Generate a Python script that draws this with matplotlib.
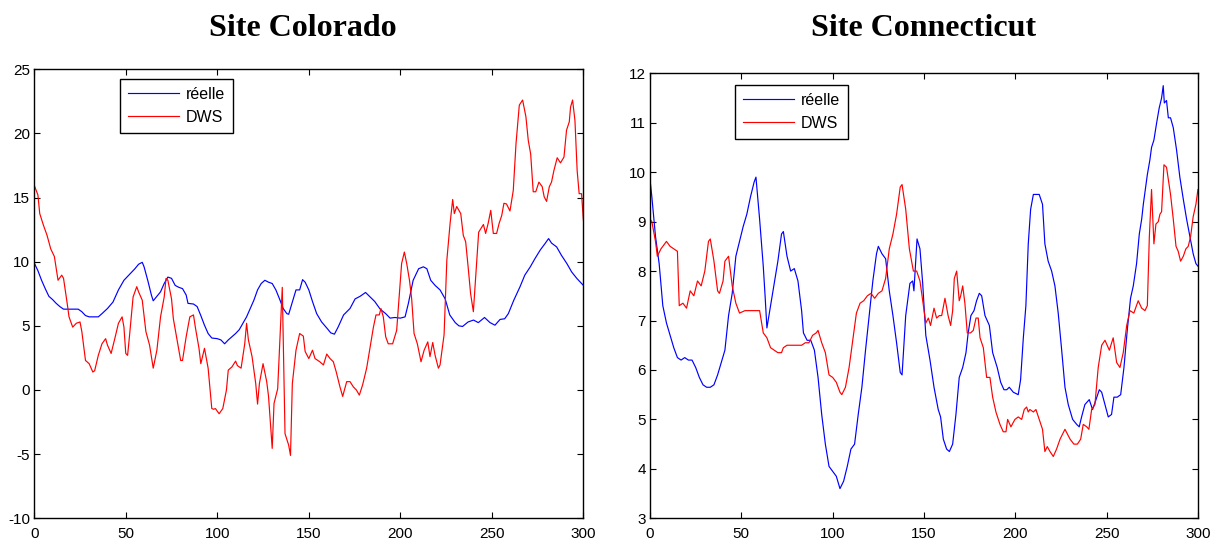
import matplotlib
matplotlib.use("Agg")
import matplotlib.pyplot as plt

# ---- Site Colorado: sample index / value knots ----
colorado_t_reelle = [0, 2, 4, 6, 8, 10, 12, 14, 16, 20, 24, 26, 28, 30, 35, 37, 40, 43, 46, 49, 52, 55, 57, 59,
                     60, 62, 64, 65, 67, 69, 71, 73, 75, 77, 79, 81, 83, 84, 87, 89, 91, 93, 95, 97, 100, 102,
                     104, 106, 108, 110, 112, 114, 116, 118, 120, 122, 124, 126, 128, 130, 132, 134, 136, 138,
                     139, 141, 143, 145, 146.6, 148, 150, 152, 154.3, 157, 160, 162, 164, 166, 169, 172.5,
                     175.3, 178, 181, 183.5, 186, 189, 192, 194.4, 197, 200, 202.6, 204.4, 207, 210, 212.6,
                     214.5, 216.6, 219, 221.7, 224.5, 227, 230, 232, 234, 237, 240, 242.6, 246, 249, 251.7,
                     254.5, 257, 259, 262, 265.4, 268, 271, 273.6, 276.4, 279, 281, 282.6, 285.4, 288, 291,
                     293.6, 296.4, 300]
colorado_reelle = [9.9, 9.3, 8.55, 7.9, 7.3, 7.05, 6.75, 6.5, 6.3, 6.3, 6.3, 6.1, 5.8, 5.7, 5.7, 5.95, 6.35, 6.85,
                   7.8, 8.55, 9.0, 9.45, 9.8, 9.95, 9.6, 8.55, 7.4, 6.95, 7.3, 7.65, 8.3, 8.8, 8.7, 8.15, 8.0,
                   7.9, 7.4, 6.75, 6.7, 6.5, 5.8, 5.05, 4.4, 4.05, 4.0, 3.9, 3.6, 3.9, 4.15, 4.4, 4.7, 5.2,
                   5.7, 6.35, 7.0, 7.8, 8.3, 8.55, 8.4, 8.3, 7.8, 7.1, 6.35, 5.95, 5.9, 6.85, 7.8, 7.8, 8.6,
                   8.4, 7.8, 6.9, 5.95, 5.3, 4.8, 4.45, 4.35, 4.9, 5.85, 6.35, 7.1, 7.3, 7.6, 7.25, 6.9, 6.3,
                   5.95, 5.6, 5.65, 5.6, 5.7, 6.75, 8.55, 9.45, 9.6, 9.45, 8.55, 8.15, 7.8, 7.1, 5.85, 5.25,
                   5.0, 4.95, 5.3, 5.45, 5.25, 5.65, 5.25, 5.05, 5.5, 5.55, 5.95, 7.0, 8.05, 8.95, 9.6,
                   10.25, 10.9, 11.4, 11.8, 11.45, 11.15, 10.5, 9.85, 9.2, 8.7, 8.15]

colorado_t_dws = [0, 2, 3, 5, 7, 9, 11, 13, 15, 16, 18, 19, 21, 23, 25, 26, 28, 30, 32, 33, 35, 37, 39, 40,
                  42, 44, 46, 48, 49, 50, 51, 52, 54, 56, 57, 59, 61, 63, 65, 67, 69, 71, 72, 73, 75, 76,
                  78, 80, 81, 83, 85, 87, 88, 90, 91, 93, 95, 97, 98, 99, 101, 103, 105, 106, 108, 110,
                  111, 113, 115, 116, 117, 119, 121, 122, 123, 125, 127, 128, 130, 131, 133, 135.5, 137,
                  139, 140, 141, 143, 145, 147, 148, 150, 152, 153.4, 156, 158, 159.8, 161.6, 163.4, 165,
                  167, 168.5, 170.7, 172.5, 174.3, 176, 177.6, 179.4, 181.6, 183.4, 185.3, 186.7, 188.5,
                  189.4, 190.7, 192, 193.4, 195.8, 198, 199.3, 200.7, 202.2, 203.5, 205, 206.2, 207.5,
                  209.3, 211.3, 213, 215, 216.2, 217.7, 219, 220.8, 221.7, 223.9, 225.4, 227.2, 228.6,
                  229.5, 230.8, 233, 234.4, 235.7, 237.2, 238.4, 239.9, 241.4, 242.8, 245.4, 246.6, 248,
                  249.4, 250.8, 252.6, 254, 255.4, 256.6, 258, 259.9, 261.7, 263.2, 265, 266.8, 268.6,
                  269.9, 271.2, 272.6, 274, 275.7, 277.5, 278.6, 279.9, 281.4, 282.6, 283.9, 285.7, 287.5,
                  289.4, 290.8, 292.3, 293, 294.1, 295.4, 296.6, 297.7, 299, 300]
colorado_dws = [15.95, 15.2, 13.75, 12.85, 12.05, 11.0, 10.4, 8.55, 8.95, 8.7, 6.75, 5.7, 4.9, 5.2, 5.3, 4.55,
                2.3, 2.05, 1.4, 1.5, 2.7, 3.6, 4.0, 3.5, 2.85, 4.0, 5.2, 5.7, 4.9, 2.85, 2.7, 4.15, 7.25,
                8.05, 7.65, 7.0, 4.55, 3.5, 1.7, 3.1, 5.7, 7.25, 8.7, 8.55, 7.1, 5.55, 3.9, 2.3, 2.3, 4.15,
                5.7, 5.85, 4.9, 3.25, 2.05, 3.25, 1.7, -1.45, -1.5, -1.45, -1.85, -1.45, 0.0, 1.55, 1.8,
                2.25, 1.9, 1.7, 3.6, 5.2, 3.9, 2.6, 0.5, -1.1, 0.5, 2.05, 0.65, -0.5, -4.55, -1.05, 0.1,
                8.0, -3.4, -4.3, -5.1, 0.5, 3.1, 4.4, 4.2, 3.0, 2.45, 3.1, 2.45, 2.2, 1.95, 2.8, 2.45, 2.2,
                1.4, 0.25, -0.5, 0.65, 0.65, 0.25, 0.0, -0.4, 0.4, 1.7, 3.25, 4.9, 5.85, 5.85, 6.35, 5.7,
                4.15, 3.6, 3.6, 4.65, 7.1, 9.85, 10.75, 9.85, 8.55, 7.1, 4.4, 3.6, 2.2, 3.1, 3.75, 2.6,
                3.7, 2.7, 1.7, 1.95, 4.3, 10.1, 13.0, 14.85, 13.75, 14.3, 13.75, 12.05, 11.55, 9.35, 7.5,
                6.1, 9.35, 12.3, 12.9, 12.2, 13.0, 14.0, 12.2, 12.2, 13.0, 13.6, 14.55, 14.5, 13.95,
                15.55, 19.2, 22.2, 22.6, 21.3, 19.45, 18.4, 15.45, 15.45, 16.2, 15.85, 15.05, 14.7, 15.85,
                16.2, 17.1, 18.1, 17.7, 18.15, 20.25, 20.9, 22.05, 22.6, 21.0, 17.1, 15.3, 15.3, 13.25]

# ---- Site Connecticut: sample index / value knots ----
connecticut_t_reelle = [0, 1, 3, 5, 7, 9, 11, 13, 15, 17, 19, 21, 23, 25, 27, 29, 31, 33, 35, 37, 39, 41, 43,
                        45, 47, 49, 51, 53, 55, 57, 58, 60, 62, 63, 64, 66, 68, 70, 72, 73, 75, 77, 79, 81,
                        83, 84, 86, 88, 90, 92, 94, 96, 98, 100, 102, 104, 106, 108, 110, 112, 114, 116,
                        118, 120, 122, 124, 125, 127, 129, 131, 133, 135, 137, 138, 140, 142.3, 143.8,
                        144.5, 146.2, 147.8, 149.3, 151, 153.3, 155.5, 157.8, 159.1, 160.6, 162.4, 163.9,
                        165.7, 167.5, 169.3, 171.2, 173, 174.2, 175.7, 177.4, 178.8, 180.3, 181.6, 183.4,
                        185.8, 187.6, 190.1, 192, 193.8, 195.3, 196.7, 198.9, 201.6, 202.9, 204.4, 205.8,
                        207.1, 208.4, 209.9, 211.7, 213.1, 214.9, 216.2, 218, 219.9, 221.7, 223.5, 225.4,
                        227.2, 229, 231.4, 233.6, 235, 236.3, 238.1, 240.5, 242.3, 244.2, 246, 247.3, 249.1,
                        250.9, 252.7, 254, 255.8, 257.7, 259.5, 261.3, 263.1, 264.6, 266.4, 267.9, 269.2,
                        270.1, 272.3, 273.7, 274.6, 275.9, 277.4, 278.8, 280.1, 281, 281.6, 282.8, 283.8,
                        285, 286.5, 288.3, 290.1, 292, 293.8, 295.6, 297.4, 298.9, 300]
connecticut_reelle = [9.85, 9.5, 8.7, 8.15, 7.3, 6.95, 6.7, 6.45, 6.25, 6.2, 6.25, 6.2, 6.2, 6.05, 5.85, 5.7,
                      5.65, 5.65, 5.7, 5.9, 6.15, 6.4, 7.1, 7.55, 8.3, 8.6, 8.9, 9.15, 9.5, 9.8, 9.9, 9.05,
                      8.1, 7.5, 6.85, 7.3, 7.75, 8.2, 8.75, 8.8, 8.3, 8.0, 8.05, 7.8, 7.2, 6.75, 6.6, 6.6,
                      6.4, 5.85, 5.1, 4.5, 4.05, 3.95, 3.85, 3.6, 3.75, 4.05, 4.4, 4.5, 5.1, 5.65, 6.4,
                      7.1, 7.8, 8.35, 8.5, 8.35, 8.25, 7.6, 7.1, 6.55, 5.95, 5.9, 7.1, 7.75, 7.8, 7.6,
                      8.65, 8.45, 7.75, 6.7, 6.2, 5.65, 5.2, 5.05, 4.6, 4.4, 4.35, 4.5, 5.1, 5.85, 6.05,
                      6.35, 6.75, 7.1, 7.2, 7.4, 7.55, 7.5, 7.1, 6.9, 6.35, 6.05, 5.75, 5.6, 5.6, 5.65,
                      5.55, 5.5, 5.8, 6.65, 7.3, 8.55, 9.25, 9.55, 9.55, 9.55, 9.35, 8.55, 8.2, 8.0, 7.7,
                      7.15, 6.4, 5.65, 5.3, 5.0, 4.9, 4.85, 5.05, 5.3, 5.4, 5.2, 5.4, 5.6, 5.55, 5.3, 5.05,
                      5.1, 5.45, 5.45, 5.5, 6.05, 6.8, 7.45, 7.7, 8.15, 8.75, 9.05, 9.35, 9.95, 10.25,
                      10.5, 10.65, 11.0, 11.3, 11.5, 11.75, 11.4, 11.45, 11.1, 11.1, 10.9, 10.45, 9.9,
                      9.45, 9.05, 8.7, 8.35, 8.15, 8.1]

connecticut_t_dws = [0, 1, 3, 4, 6, 8, 9, 11, 13, 15, 16, 18, 20, 22, 24, 26, 28, 30, 32, 33, 35, 37, 38, 40,
                     41, 43, 45, 47, 49, 52, 55, 58, 60, 62, 64, 66, 68, 70, 72, 73, 75, 77, 79, 81, 83, 85,
                     87, 89, 91, 92, 94, 96, 98, 100, 102, 104, 105, 107, 109, 111, 113, 115, 117, 119,
                     121, 123, 125, 127, 129, 131, 133, 135, 137, 138, 140, 142, 144.2, 146, 147.8, 149.3,
                     151, 152.4, 153.6, 155.5, 156.9, 158.4, 159.7, 161.5, 163.2, 164.6, 165.7, 166.6,
                     167.9, 169.3, 170.1, 171.2, 172.4, 173.7, 175.5, 177, 178.5, 179.7, 180.7, 182.5,
                     184.3, 186.1, 187.6, 189.4, 191.6, 193.4, 194.9, 195.8, 197.6, 199.8, 201.6, 203.5,
                     204.9, 206.2, 207.1, 208, 209.9, 211.3, 213.1, 214.9, 216.2, 217.5, 219, 220.8,
                     222.6, 224.5, 227.2, 230, 232.1, 234, 235.8, 237.2, 239.1, 240.3, 241.8, 243.6,
                     245.4, 247.3, 249.1, 251.5, 253.6, 255.5, 257.3, 259.1, 261, 262.8, 264.9, 267.3,
                     269.2, 271, 272.3, 273.4, 274.6, 275.9, 277, 278.3, 279.2, 280.1, 281.4, 282.8, 283.8,
                     285, 286.5, 288, 289.2, 290.5, 292, 293.4, 294.7, 296, 297.4, 298.9, 300]
connecticut_dws = [9.05, 9.0, 8.6, 8.3, 8.45, 8.55, 8.6, 8.5, 8.45, 8.4, 7.3, 7.35, 7.25, 7.6, 7.5, 7.8, 7.7,
                   8.0, 8.6, 8.65, 8.2, 7.6, 7.55, 7.8, 8.2, 8.3, 7.7, 7.35, 7.15, 7.2, 7.2, 7.2, 7.2,
                   6.75, 6.65, 6.45, 6.4, 6.35, 6.35, 6.45, 6.5, 6.5, 6.5, 6.5, 6.5, 6.55, 6.55, 6.7, 6.75,
                   6.8, 6.55, 6.35, 5.9, 5.85, 5.75, 5.55, 5.5, 5.65, 6.05, 6.6, 7.15, 7.35, 7.4, 7.5,
                   7.55, 7.45, 7.55, 7.6, 7.85, 8.45, 8.75, 9.15, 9.7, 9.75, 9.25, 8.45, 8.0, 8.0, 7.8,
                   7.4, 6.95, 7.05, 6.9, 7.25, 7.05, 7.1, 7.1, 7.45, 7.1, 6.9, 7.2, 7.85, 8.0, 7.4, 7.5,
                   7.7, 7.35, 6.75, 6.75, 6.8, 7.05, 7.05, 6.65, 6.45, 5.85, 5.85, 5.45, 5.15, 4.9, 4.75,
                   4.75, 5.0, 4.85, 5.0, 5.05, 5.0, 5.2, 5.25, 5.15, 5.2, 5.15, 5.2, 5.0, 4.8, 4.35, 4.45,
                   4.35, 4.25, 4.4, 4.6, 4.8, 4.6, 4.5, 4.5, 4.6, 4.9, 4.85, 4.8, 5.2, 5.3, 6.05, 6.5,
                   6.6, 6.4, 6.65, 6.15, 6.05, 6.35, 6.9, 7.2, 7.15, 7.4, 7.25, 7.2, 7.3, 8.7, 9.65, 8.55,
                   8.95, 9.0, 9.15, 9.2, 10.15, 10.1, 9.85, 9.55, 9.05, 8.5, 8.4, 8.2, 8.3, 8.45, 8.5,
                   8.7, 9.1, 9.35, 9.65]

x_ticks = [0, 50, 100, 150, 200, 250, 300]
colorado_y_ticks = [-10, -5, 0, 5, 10, 15, 20, 25]
connecticut_y_ticks = [3, 4, 5, 6, 7, 8, 9, 10, 11, 12]
legend_labels = ["réelle", "DWS"]
titles = ["Site Colorado", "Site Connecticut"]

plt.rcParams["font.family"] = ["Liberation Sans", "DejaVu Sans"]
plt.rcParams["axes.unicode_minus"] = False

fig = plt.figure(figsize=(12.23, 5.45), dpi=100)
ax1 = fig.add_axes([0.028, 0.049, 0.449, 0.824])
ax2 = fig.add_axes([0.5315, 0.049, 0.448, 0.8165])

panels = [
    (ax1, colorado_t_reelle, colorado_reelle, colorado_t_dws, colorado_dws, colorado_y_ticks, (0.156, 0.978)),
    (ax2, connecticut_t_reelle, connecticut_reelle, connecticut_t_dws, connecticut_dws, connecticut_y_ticks,
     (0.155, 0.974)),
]

for ax, tr, yr, td, yd, yticks, leg_pos in panels:
    ax.plot(tr, yr, color="#0000ff", lw=0.85, label=legend_labels[0])
    ax.plot(td, yd, color="#ff0000", lw=0.85, label=legend_labels[1])
    ax.set_xlim(x_ticks[0], x_ticks[-1])
    ax.set_ylim(yticks[0], yticks[-1])
    ax.set_xticks(x_ticks)
    ax.set_yticks(yticks)
    ax.tick_params(direction="in", top=True, right=True, length=4, width=0.8,
                   labelsize=11, pad=3)
    ax.tick_params(axis="x", pad=6)
    for sp in ax.spines.values():
        sp.set_linewidth(1.0)
    leg = ax.legend(loc="upper left", bbox_to_anchor=leg_pos, borderaxespad=0, fontsize=11.5,
                    handlelength=3.2, handletextpad=0.4, labelspacing=0.5, borderpad=0.5,
                    fancybox=False, framealpha=1, edgecolor="black")
    leg.get_frame().set_linewidth(1.0)

# Titles share one baseline above both panels
for x, title in zip([0.248, 0.755], titles):
    fig.text(x, 0.934, title, ha="center", va="baseline", fontsize=23, fontweight="bold",
             family="Liberation Serif")

fig.savefig("out.png", dpi=100)
